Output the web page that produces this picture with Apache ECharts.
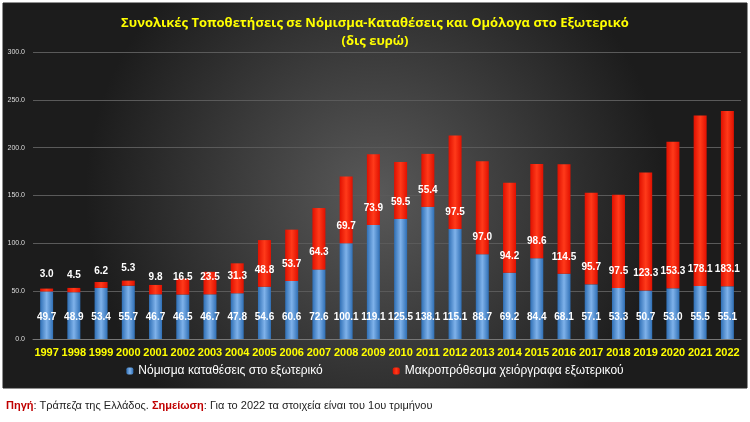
<!DOCTYPE html>
<html><head><meta charset="utf-8">
<script src="https://cdn.jsdelivr.net/npm/echarts@6/dist/echarts.min.js"></script>
<style>body{margin:0;background:#fff}#c{width:750px;height:422px}</style>
</head><body><div id="c"></div>
<script>
var years = ['1997','1998','1999','2000','2001','2002','2003','2004','2005','2006','2007','2008','2009','2010','2011','2012','2013','2014','2015','2016','2017','2018','2019','2020','2021','2022'];
var deposits = [49.7,48.9,53.4,55.7,46.7,46.5,46.7,47.8,54.6,60.6,72.6,100.1,119.1,125.5,138.1,115.1,88.7,69.2,84.4,68.1,57.1,53.3,50.7,53.0,55.5,55.1];
var bonds = [3.0,4.5,6.2,5.3,9.8,16.5,23.5,31.3,48.8,53.7,64.3,69.7,73.9,59.5,55.4,97.5,97.0,94.2,98.6,114.5,95.7,97.5,123.3,153.3,178.1,183.1];

var chart = echarts.init(document.getElementById('c'));
var lbl = {show: true, color: '#fff', fontSize: 10, fontWeight: 'bold', fontFamily: 'Liberation Sans Narrow, Arial',
    formatter: function (p) { return p.value.toFixed(1); }};
chart.setOption({
    graphic: [
        {type: 'rect', z: -10, shape: {x: 3, y: 3, width: 744, height: 385},
         style: {fill: new echarts.graphic.RadialGradient(0.5, 0.5, 0.75, [
             {offset: 0, color: '#595959'}, {offset: 1, color: '#1c1c1c'}]), stroke: '#222'}},
        {type: 'text', left: 6, top: 400, style: {
            text: '{r|Πηγή}: Τράπεζα της Ελλάδος. {r|Σημείωση}: Για το 2022 τα στοιχεία είναι του 1ου τριμήνου',
            fontFamily: 'Liberation Sans Narrow, Arial', fontSize: 11, fill: '#222',
            rich: {r: {fill: '#c00000', fontFamily: 'Liberation Sans Narrow, Arial', fontSize: 11, fontWeight: 'bold'}}}}
    ],
    title: {
        text: 'Συνολικές Τοποθετήσεις σε Νόμισμα-Καταθέσεις και Ομόλογα στο Εξωτερικό\n(δις ευρώ)',
        left: 'center', top: 9,
        textStyle: {color: '#ffff00', fontSize: 13, fontWeight: 'bold', lineHeight: 18, fontFamily: 'Open Sans'}
    },
    legend: {
        bottom: 40, itemWidth: 7, itemHeight: 7, itemGap: 70,
        textStyle: {color: '#fff', fontSize: 12, fontFamily: 'Liberation Sans Narrow, Arial'},
        data: ['Νόμισμα καταθέσεις στο εξωτερικό', 'Μακροπρόθεσμα χειόργραφα εξωτερικού']
    },
    grid: {left: 33, right: 9, top: 52, bottom: 83},
    xAxis: {
        type: 'category', data: years,
        axisLine: {lineStyle: {color: '#777'}}, axisTick: {show: false},
        axisLabel: {color: '#ffff00', fontSize: 11, fontWeight: 'bold', fontFamily: 'Liberation Sans Narrow, Arial', margin: 8, interval: 0}
    },
    yAxis: {
        type: 'value', min: 0, max: 300, interval: 50,
        axisLabel: {color: '#ddd', fontSize: 7, formatter: function (v) { return v.toFixed(1); }},
        splitLine: {lineStyle: {color: '#5a5a5a'}}
    },
    series: [
        {name: 'Νόμισμα καταθέσεις στο εξωτερικό', type: 'bar', stack: 't', barWidth: 13, data: deposits,
         itemStyle: {color: new echarts.graphic.LinearGradient(0, 0, 1, 0, [
             {offset: 0, color: '#2f6fb5'}, {offset: 0.5, color: '#7fb2ea'}, {offset: 1, color: '#2f6fb5'}])},
         label: Object.assign({position: 'insideBottom', distance: 17}, lbl)},
        {name: 'Μακροπρόθεσμα χειόργραφα εξωτερικού', type: 'bar', stack: 't', barWidth: 13, data: bonds,
         itemStyle: {color: new echarts.graphic.LinearGradient(0, 0, 1, 0, [
             {offset: 0, color: '#e01000'}, {offset: 0.5, color: '#ff3a1a'}, {offset: 1, color: '#e01000'}])},
         label: Object.assign({position: 'insideBottom', distance: 12}, lbl)}
    ]
});
</script></body></html>
